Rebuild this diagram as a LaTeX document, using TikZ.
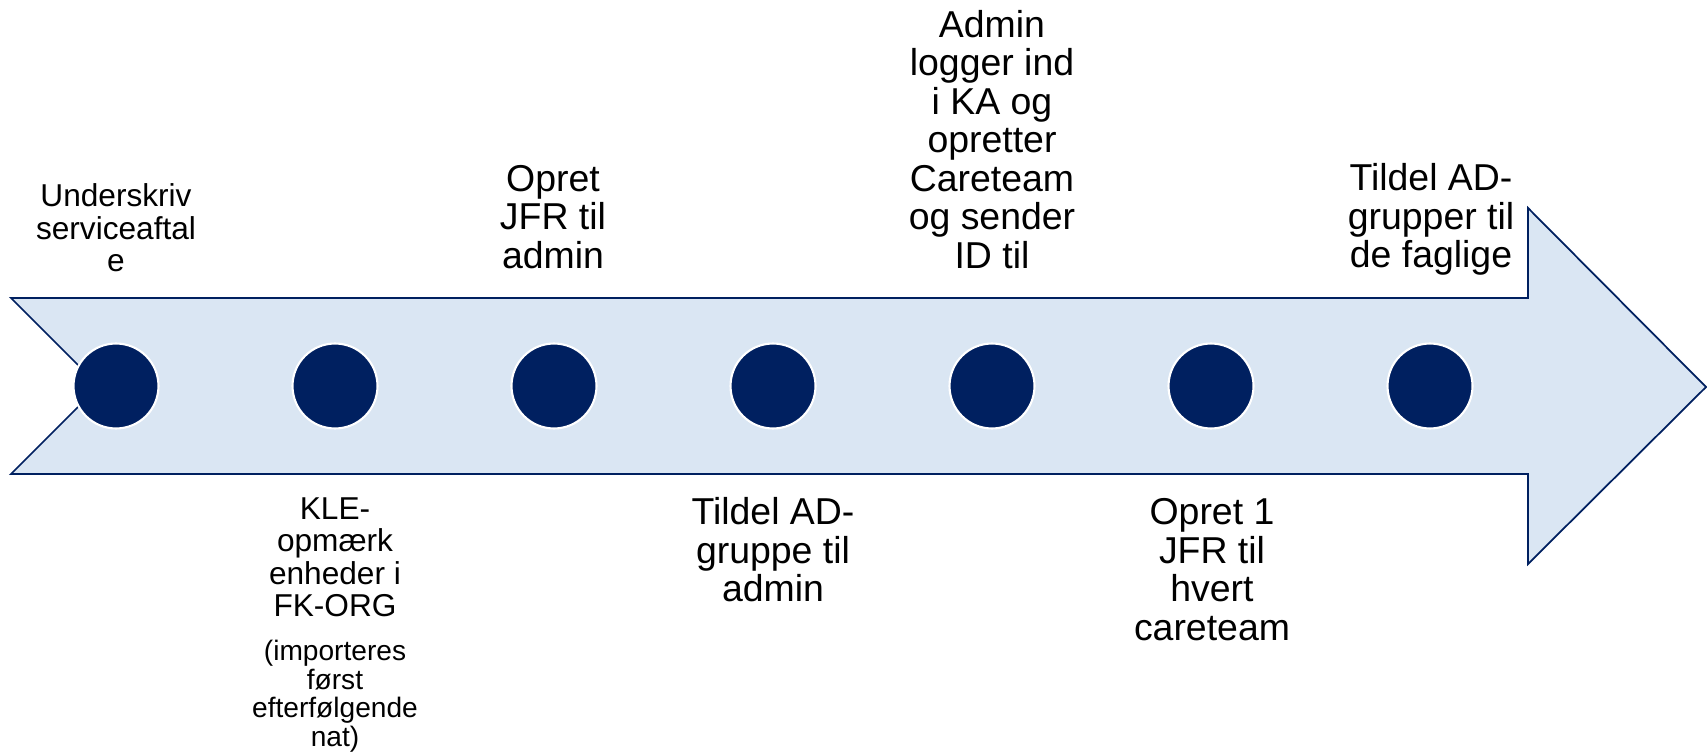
\documentclass[tikz,border=0pt]{standalone}
\usepackage{fontspec}
\setmainfont{Liberation Sans}
\definecolor{shaftblue}{RGB}{218,230,243}
\definecolor{dotblue}{RGB}{0,32,96}

\begin{document}
\begin{tikzpicture} [x=0.02cm, y=-0.02cm, align=center,
  dot/.style={circle, fill=dotblue, draw=white, line width=1.2pt, minimum size=1.7cm, inner sep=0pt},
  big/.style={anchor=base, inner sep=0pt, font=\fontsize{21.3}{21.9}\selectfont},
  mid/.style={anchor=base, inner sep=0pt, font=\fontsize{18}{18.5}\selectfont},
  small/.style={anchor=base, inner sep=0pt, font=\fontsize{16}{16.4}\selectfont}]
\useasboundingbox (0,0) rectangle (1707,753);

% the arrow
\draw[dotblue, fill=shaftblue, line width=1pt]
  (11,298) -- (1528,298) -- (1528,208) -- (1706,387) -- (1528,564)
  -- (1528,474) -- (11,474) -- (99,386) -- cycle;

% the steps
\path (116, 386) node[dot] (d1) {}
      (335, 386) node[dot] (d2) {}
      (554, 386) node[dot] (d3) {}
      (773, 386) node[dot] (d4) {}
      (992, 386) node[dot] (d5) {}
      (1211, 386) node[dot] (d6) {}
      (1430, 386) node[dot] (d7) {};

% labels above and below (placed by the baseline of the last line)
\path (116, 271.7) node[mid] (u1) {Underskriv\\serviceaftal\\e}
      (335, 616.7) node[mid] (k1) {KLE-\\opmærk\\enheder i\\FK-ORG}
      (335, 746.7) node[small] (k2) {(importeres\\først\\efterfølgende\\nat)}
      (553, 268.3) node[big] (o1) {Opret\\JFR til\\admin}
      (773, 601.7) node[big] (t1) {Tildel AD-\\gruppe til\\admin}
      (992, 268.3) node[big] (a1) {Admin\\logger ind\\i KA og\\opretter\\Careteam\\og sender\\ID til}
      (1212, 640) node[big] (o2) {Opret 1\\JFR til\\hvert\\careteam}
      (1431, 267.7) node[big] (t2) {Tildel AD-\\grupper til\\de faglige};

\end{tikzpicture}
\end{document}
